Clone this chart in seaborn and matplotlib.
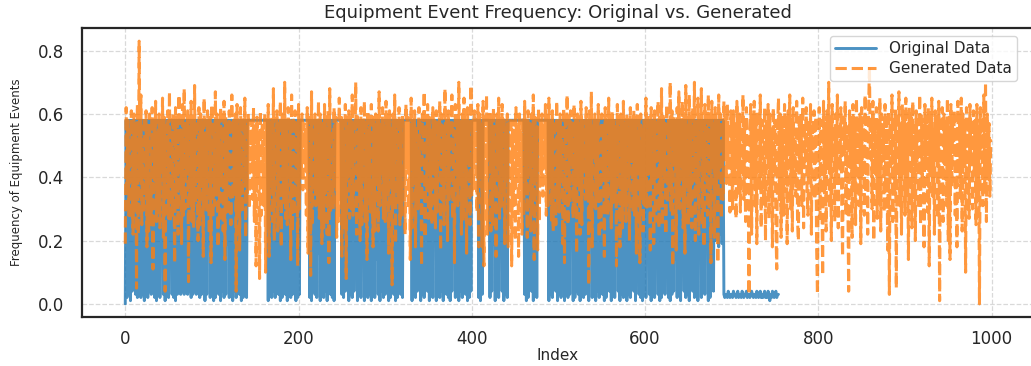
import numpy as np
import pandas as pd
import matplotlib
matplotlib.use("Agg")
import matplotlib.pyplot as plt
import seaborn as sns

# ---------------- data ----------------
original_a = [
0.00,0.58,0.02,0.58,0.03,0.58,0.01,0.58,0.04,0.58,0.58,0.58,0.03,0.58,0.02,0.58,0.25,0.58,0.02,0.58,
0.03,0.58,0.01,0.58,0.18,0.58,0.02,0.58,0.04,0.58,0.03,0.58,0.30,0.58,0.02,0.58,0.01,0.58,0.03,0.58,
0.02,0.58,0.22,0.58,0.03,0.58,0.01,0.58,0.04,0.58,0.02,0.58,0.12,0.58,0.03,0.58,0.02,0.58,0.01,0.58,
0.03,0.58,0.58,0.58,0.03,0.58,0.04,0.58,0.03,0.58,0.28,0.58,0.03,0.58,0.04,0.58,0.02,0.58,0.03,0.58,
0.04,0.58,0.03,0.58,0.15,0.58,0.02,0.58,0.03,0.58,0.04,0.58,0.01,0.58,0.03,0.58,0.35,0.58,0.02,0.58,
0.03,0.58,0.01,0.58,0.02,0.58,0.24,0.58,0.03,0.58,0.01,0.58,0.04,0.58,0.02,0.58,0.03,0.58,0.19,0.58,
0.02,0.58,0.03,0.58,0.01,0.58,0.04,0.58,0.02,0.58,0.30,0.58,0.03,0.58,0.01,0.58,0.02,0.58,0.04,0.58,
0.02,0.58,0.58,0.58,0.58,0.58,0.58,0.58,0.58,0.58,0.58,0.58,0.58,0.58,0.58,0.58,0.58,0.58,0.58,0.58,
0.58,0.58,0.58,0.58,0.58,0.01,0.58,0.03,0.58,0.02,0.58,0.04,0.58,0.02,0.58,0.58,0.58,0.03,0.58,0.01,
0.58,0.02,0.58,0.20,0.58,0.03,0.58,0.01,0.58,0.04,0.58,0.02,0.58,0.03,0.58,0.27,0.58,0.01,0.58,0.02,
]
original_b = [
0.58,0.03,0.58,0.58,0.58,0.58,0.58,0.58,0.58,0.58,0.58,0.58,0.58,0.02,0.58,0.01,0.58,0.04,0.58,0.03,
0.58,0.02,0.58,0.16,0.58,0.01,0.58,0.03,0.58,0.02,0.58,0.04,0.58,0.01,0.58,0.29,0.58,0.03,0.58,0.02,
0.58,0.01,0.58,0.58,0.58,0.58,0.58,0.58,0.58,0.58,0.03,0.58,0.02,0.58,0.04,0.58,0.21,0.58,0.01,0.58,
0.03,0.58,0.02,0.58,0.04,0.58,0.58,0.58,0.01,0.58,0.03,0.58,0.02,0.58,0.33,0.58,0.01,0.58,0.04,0.58,
0.02,0.58,0.03,0.58,0.01,0.58,0.58,0.58,0.02,0.58,0.14,0.58,0.03,0.58,0.01,0.58,0.04,0.58,0.02,0.58,
0.03,0.58,0.26,0.58,0.01,0.58,0.02,0.58,0.04,0.58,0.03,0.58,0.01,0.58,0.02,0.58,0.18,0.58,0.03,0.58,
0.02,0.58,0.58,0.58,0.58,0.58,0.58,0.58,0.58,0.58,0.58,0.01,0.58,0.03,0.58,0.02,0.58,0.04,0.58,0.31,
0.58,0.01,0.58,0.03,0.58,0.02,0.58,0.12,0.58,0.04,0.58,0.01,0.58,0.03,0.58,0.02,0.58,0.23,0.58,0.01,
0.58,0.03,0.58,0.02,0.58,0.04,0.58,0.01,0.58,0.28,0.58,0.03,0.58,0.02,0.58,0.01,0.58,0.04,0.58,0.17,
0.58,0.02,0.58,0.03,0.58,0.01,0.58,0.04,0.58,0.02,0.58,0.34,0.58,0.03,0.58,0.01,0.58,0.02,0.58,0.04,
]
original_c = [
0.58,0.58,0.58,0.58,0.58,0.58,0.58,0.58,0.02,0.58,0.01,0.58,0.03,0.58,0.58,0.58,0.58,0.58,0.58,0.58,
0.58,0.02,0.58,0.04,0.58,0.19,0.58,0.01,0.58,0.03,0.58,0.02,0.58,0.25,0.58,0.04,0.58,0.01,0.58,0.03,
0.58,0.02,0.58,0.58,0.58,0.58,0.58,0.58,0.58,0.58,0.58,0.58,0.58,0.58,0.58,0.58,0.58,0.58,0.58,0.58,
0.58,0.03,0.58,0.01,0.58,0.02,0.58,0.30,0.58,0.04,0.58,0.01,0.58,0.03,0.58,0.02,0.58,0.58,0.58,0.58,
0.58,0.58,0.58,0.58,0.58,0.58,0.58,0.58,0.58,0.01,0.58,0.03,0.58,0.02,0.58,0.22,0.58,0.04,0.58,0.01,
0.58,0.03,0.58,0.02,0.58,0.15,0.58,0.01,0.58,0.04,0.58,0.02,0.58,0.03,0.58,0.27,0.58,0.01,0.58,0.02,
0.58,0.04,0.58,0.03,0.58,0.01,0.58,0.20,0.58,0.02,0.58,0.03,0.58,0.04,0.58,0.01,0.58,0.32,0.58,0.02,
0.58,0.03,0.58,0.01,0.58,0.04,0.58,0.02,0.58,0.13,0.58,0.03,0.58,0.01,0.58,0.02,0.58,0.26,0.58,0.04,
0.58,0.01,0.58,0.03,0.58,0.02,0.58,0.18,0.58,0.04,0.58,0.01,0.58,0.03,0.58,0.02,0.58,0.29,0.58,0.01,
0.58,0.03,0.58,0.02,0.58,0.58,0.58,0.04,0.58,0.01,0.58,0.24,0.58,0.03,0.58,0.02,0.58,0.01,0.58,0.04,
]
original_d = [
0.58,0.02,0.58,0.16,0.58,0.03,0.58,0.01,0.58,0.04,0.58,0.02,0.58,0.31,0.58,0.03,0.58,0.01,0.58,0.02,
0.58,0.04,0.58,0.03,0.58,0.21,0.58,0.02,0.58,0.01,0.58,0.03,0.58,0.04,0.58,0.14,0.58,0.02,0.58,0.03,
0.58,0.01,0.58,0.27,0.58,0.04,0.58,0.02,0.58,0.03,0.58,0.01,0.58,0.19,0.58,0.04,0.58,0.02,0.58,0.03,
0.58,0.01,0.58,0.33,0.58,0.02,0.58,0.04,0.58,0.03,0.58,0.22,0.58,0.01,0.58,0.02,0.58,0.30,0.58,0.04,
0.58,0.20,0.58,0.25,0.58,0.18,0.58,0.22,0.58,0.19,0.58,0.03,0.02,0.03,0.03,0.02,0.04,0.03,0.02,0.03,
0.03,0.02,0.04,0.03,0.03,0.02,0.03,0.04,0.02,0.03,0.03,0.02,0.04,0.03,0.02,0.03,0.03,0.04,0.02,0.03,
0.03,0.02,0.03,0.04,0.03,0.02,0.03,0.03,0.02,0.04,0.03,0.02,0.03,0.04,0.02,0.03,0.02,0.03,0.04,0.02,
0.03,0.02,0.04,0.03,0.01,0.03,0.02,0.04,0.03,0.02,0.03,0.04,0.02,0.03,0.03,
]

generated_a = [
0.19,0.62,0.35,0.58,0.28,0.55,0.27,0.61,0.44,0.22,0.60,0.31,0.57,0.05,0.63,0.22,0.83,0.40,0.66,0.25,
0.52,0.29,0.59,0.36,0.61,0.18,0.55,0.23,0.60,0.47,0.25,0.62,0.11,0.58,0.39,0.64,0.26,0.53,0.29,0.60,
0.24,0.57,0.42,0.65,0.21,0.59,0.04,0.56,0.33,0.61,0.27,0.67,0.26,0.54,0.28,0.60,0.45,0.13,0.62,0.30,
0.58,0.22,0.66,0.38,0.55,0.19,0.63,0.28,0.68,0.30,0.57,0.41,0.61,0.07,0.59,0.34,0.64,0.26,0.56,0.24,
0.69,0.32,0.58,0.46,0.20,0.62,0.25,0.60,0.37,0.57,0.15,0.65,0.31,0.54,0.29,0.61,0.43,0.22,0.59,0.13,
0.63,0.27,0.56,0.31,0.67,0.35,0.60,0.18,0.58,0.26,0.62,0.40,0.55,0.23,0.64,0.14,0.59,0.32,0.57,0.28,
0.61,0.44,0.25,0.66,0.33,0.58,0.36,0.60,0.04,0.63,0.29,0.56,0.17,0.62,0.50,0.29,0.59,0.38,0.65,0.21,
0.57,0.35,0.60,0.30,0.55,0.42,0.58,0.33,0.62,0.26,0.56,0.12,0.59,0.39,0.54,0.08,0.61,0.28,0.57,0.45,
0.31,0.60,0.10,0.58,0.24,0.63,0.15,0.57,0.37,0.59,0.26,0.68,0.20,0.55,0.42,0.61,0.23,0.57,0.33,0.64,
0.18,0.60,0.46,0.32,0.70,0.27,0.56,0.25,0.62,0.39,0.58,0.14,0.66,0.23,0.59,0.28,0.61,0.35,0.55,0.12,
]
generated_b = [
0.63,0.30,0.58,0.41,0.60,0.36,0.57,0.44,0.55,0.28,0.62,0.16,0.59,0.47,0.09,0.67,0.25,0.56,0.38,0.60,
0.31,0.58,0.32,0.64,0.27,0.60,0.43,0.19,0.57,0.24,0.63,0.35,0.56,0.22,0.61,0.13,0.68,0.29,0.55,0.46,
0.30,0.62,0.37,0.59,0.21,0.57,0.26,0.65,0.33,0.60,0.15,0.58,0.48,0.24,0.63,0.08,0.56,0.40,0.61,0.27,
0.59,0.30,0.66,0.28,0.57,0.44,0.70,0.22,0.60,0.36,0.55,0.20,0.62,0.25,0.58,0.41,0.64,0.26,0.57,0.14,
0.61,0.34,0.56,0.29,0.63,0.47,0.18,0.59,0.23,0.60,0.38,0.58,0.23,0.67,0.31,0.56,0.43,0.62,0.27,0.57,
0.26,0.64,0.35,0.59,0.16,0.61,0.40,0.55,0.06,0.60,0.31,0.66,0.19,0.58,0.45,0.32,0.62,0.25,0.57,0.28,
0.60,0.37,0.56,0.22,0.63,0.42,0.59,0.30,0.57,0.14,0.65,0.24,0.58,0.39,0.61,0.18,0.56,0.49,0.30,0.62,
0.33,0.58,0.12,0.60,0.44,0.67,0.21,0.57,0.36,0.63,0.27,0.59,0.28,0.55,0.25,0.62,0.41,0.58,0.24,0.61,
0.29,0.57,0.46,0.64,0.17,0.60,0.32,0.56,0.25,0.68,0.38,0.59,0.20,0.61,0.33,0.58,0.43,0.66,0.27,0.55,
0.13,0.63,0.35,0.59,0.31,0.70,0.40,0.57,0.22,0.60,0.26,0.65,0.31,0.58,0.16,0.62,0.47,0.56,0.25,0.69,
]
generated_c = [
0.34,0.58,0.36,0.61,0.44,0.57,0.29,0.63,0.18,0.60,0.40,0.56,0.18,0.64,0.12,0.59,0.33,0.66,0.22,0.57,
0.45,0.61,0.23,0.58,0.25,0.62,0.37,0.56,0.15,0.60,0.42,0.65,0.27,0.57,0.30,0.63,0.34,0.59,0.19,0.55,
0.40,0.60,0.18,0.57,0.26,0.59,0.12,0.55,0.31,0.58,0.20,0.62,0.38,0.56,0.15,0.60,0.33,0.54,0.22,0.59,
0.28,0.64,0.35,0.58,0.21,0.61,0.43,0.57,0.23,0.60,0.30,0.66,0.14,0.59,0.39,0.56,0.17,0.62,0.26,0.58,
0.41,0.60,0.34,0.57,0.45,0.63,0.28,0.59,0.31,0.65,0.37,0.56,0.26,0.61,0.23,0.58,0.48,0.25,0.64,0.32,
0.57,0.29,0.60,0.40,0.55,0.19,0.62,0.13,0.58,0.35,0.66,0.25,0.59,0.32,0.61,0.44,0.56,0.27,0.63,0.30,
0.58,0.16,0.60,0.38,0.57,0.22,0.64,0.25,0.59,0.42,0.56,0.33,0.62,0.33,0.58,0.06,0.61,0.27,0.67,0.18,
0.56,0.46,0.60,0.30,0.58,0.36,0.63,0.21,0.57,0.24,0.60,0.39,0.55,0.15,0.62,0.29,0.59,0.28,0.65,0.43,
0.57,0.24,0.61,0.32,0.58,0.34,0.56,0.12,0.63,0.40,0.59,0.18,0.60,0.47,0.24,0.64,0.31,0.57,0.26,0.60,
0.37,0.56,0.20,0.62,0.45,0.58,0.29,0.61,0.28,0.57,0.16,0.63,0.41,0.59,0.13,0.60,0.35,0.55,0.23,0.58,
]
generated_d = [
0.31,0.65,0.30,0.60,0.44,0.57,0.17,0.62,0.38,0.58,0.19,0.61,0.26,0.56,0.48,0.64,0.24,0.59,0.33,0.68,
0.25,0.60,0.40,0.57,0.22,0.63,0.32,0.58,0.36,0.70,0.29,0.61,0.12,0.59,0.45,0.56,0.17,0.62,0.32,0.67,
0.30,0.58,0.43,0.64,0.24,0.60,0.16,0.69,0.37,0.57,0.25,0.66,0.28,0.59,0.24,0.62,0.41,0.70,0.20,0.58,
0.35,0.65,0.22,0.60,0.47,0.68,0.25,0.57,0.18,0.63,0.39,0.59,0.28,0.66,0.30,0.61,0.13,0.64,0.44,0.57,
0.21,0.62,0.36,0.58,0.13,0.66,0.42,0.60,0.27,0.55,0.33,0.64,0.48,0.59,0.38,0.63,0.45,0.57,0.29,0.61,
0.52,0.30,0.61,0.38,0.57,0.27,0.64,0.45,0.35,0.60,0.29,0.56,0.41,0.66,0.33,0.58,0.26,0.62,0.47,0.37,
0.03,0.55,0.63,0.22,0.59,0.40,0.64,0.30,0.57,0.19,0.61,0.45,0.36,0.66,0.24,0.58,0.42,0.31,0.62,0.20,
0.57,0.46,0.63,0.27,0.60,0.35,0.55,0.18,0.62,0.41,0.58,0.25,0.11,0.56,0.65,0.33,0.60,0.21,0.59,0.44,
0.28,0.63,0.38,0.57,0.19,0.61,0.47,0.66,0.30,0.58,0.23,0.62,0.40,0.55,0.34,0.64,0.26,0.20,0.59,0.43,
0.60,0.31,0.65,0.24,0.57,0.45,0.62,0.36,0.28,0.58,0.41,0.63,0.22,0.56,0.48,0.61,0.33,0.59,0.18,0.03,
]
generated_e = [
0.47,0.62,0.27,0.58,0.40,0.09,0.64,0.35,0.57,0.23,0.61,0.44,0.70,0.30,0.59,0.20,0.63,0.46,0.56,0.26,
0.60,0.38,0.66,0.24,0.57,0.42,0.62,0.32,0.15,0.59,0.48,0.64,0.28,0.56,0.37,0.04,0.61,0.43,0.58,0.21,
0.63,0.36,0.57,0.25,0.65,0.44,0.59,0.31,0.60,0.19,0.62,0.40,0.56,0.28,0.66,0.35,0.58,0.22,0.61,0.75,
0.46,0.59,0.30,0.64,0.20,0.57,0.41,0.62,0.27,0.58,0.34,0.65,0.23,0.60,0.45,0.56,0.29,0.63,0.38,0.58,
0.17,0.61,0.03,0.57,0.44,0.66,0.26,0.59,0.35,0.62,0.05,0.58,0.40,0.67,0.31,0.56,0.22,0.63,0.43,0.60,
0.28,0.65,0.36,0.57,0.14,0.62,0.47,0.59,0.24,0.64,0.33,0.56,0.20,0.61,0.42,0.58,0.30,0.66,0.25,0.60,
0.38,0.57,0.18,0.63,0.45,0.59,0.29,0.62,0.12,0.58,0.41,0.65,0.34,0.56,0.22,0.61,0.46,0.59,0.27,0.64,
0.01,0.57,0.39,0.62,0.26,0.60,0.44,0.58,0.31,0.65,0.20,0.59,0.14,0.63,0.37,0.57,0.48,0.61,0.28,0.56,
0.18,0.64,0.41,0.58,0.33,0.65,0.23,0.60,0.45,0.57,0.10,0.62,0.36,0.59,0.27,0.63,0.44,0.56,0.30,0.61,
0.42,0.58,0.25,0.63,0.35,0.57,0.00,0.62,0.46,0.59,0.31,0.66,0.38,0.70,0.26,0.60,0.43,0.57,0.34,0.52,
]

title_text = "Equipment Event Frequency: Original vs. Generated"
x_label = "Index"
y_label = "Frequency of Equipment Events"
legend_labels = ["Original Data", "Generated Data"]

original = original_a + original_b + original_c + original_d
generated = generated_a + generated_b + generated_c + generated_d + generated_e

df_orig = pd.DataFrame({"Index": np.arange(len(original)), "Value": original})
df_gen = pd.DataFrame({"Index": np.arange(len(generated)), "Value": generated})

# ---------------- style ----------------
sns.set_theme(style="white")
plt.rcParams["font.family"] = ["DejaVu Sans"]

W, H = 1031, 366
fig = plt.figure(figsize=(W / 100, H / 100), dpi=100)
ax = fig.add_axes([82 / W, 1 - 317 / H, (1034 - 82) / W, (317 - 28) / H])

sns.lineplot(data=df_orig, x="Index", y="Value", ax=ax, color="#1f77b4",
             alpha=0.8, linewidth=2.1, label=legend_labels[0], errorbar=None)
sns.lineplot(data=df_gen, x="Index", y="Value", ax=ax, color="#ff7f0e",
             alpha=0.8, linewidth=2.2, linestyle="--", label=legend_labels[1],
             errorbar=None)

ax.set_xticks([0, 200, 400, 600, 800, 1000])
ax.set_yticks([0.0, 0.2, 0.4, 0.6, 0.8])
ax.set_yticklabels(["0.0", "0.2", "0.4", "0.6", "0.8"])
ax.grid(True, linestyle="--", color="#d9d9d9", linewidth=0.9)
ax.set_axisbelow(True)
for s in ax.spines.values():
    s.set_color("#262626")
    s.set_linewidth(1.6)

ax.tick_params(axis="x", length=0, pad=9, labelsize=12, labelcolor="#262626")
ax.tick_params(axis="y", length=0, pad=13, labelsize=12, labelcolor="#262626")

ax.set_title(title_text, fontsize=13, color="#262626", pad=7)
ax.set_xlabel(x_label, fontsize=11, color="#262626", labelpad=0.5)
ax.set_ylabel(y_label, fontsize=8.5, color="#262626")
ax.yaxis.set_label_coords(-0.062, 0.5)

leg = ax.legend(loc="upper right", bbox_to_anchor=(0.982, 0.972), borderaxespad=0,
                fontsize=11, handlelength=2.7, frameon=True, framealpha=0.8,
                edgecolor="#cccccc", labelspacing=0.3, borderpad=0.35)
for t in leg.get_texts():
    t.set_color("#262626")

fig.savefig("out.png", dpi=100)
